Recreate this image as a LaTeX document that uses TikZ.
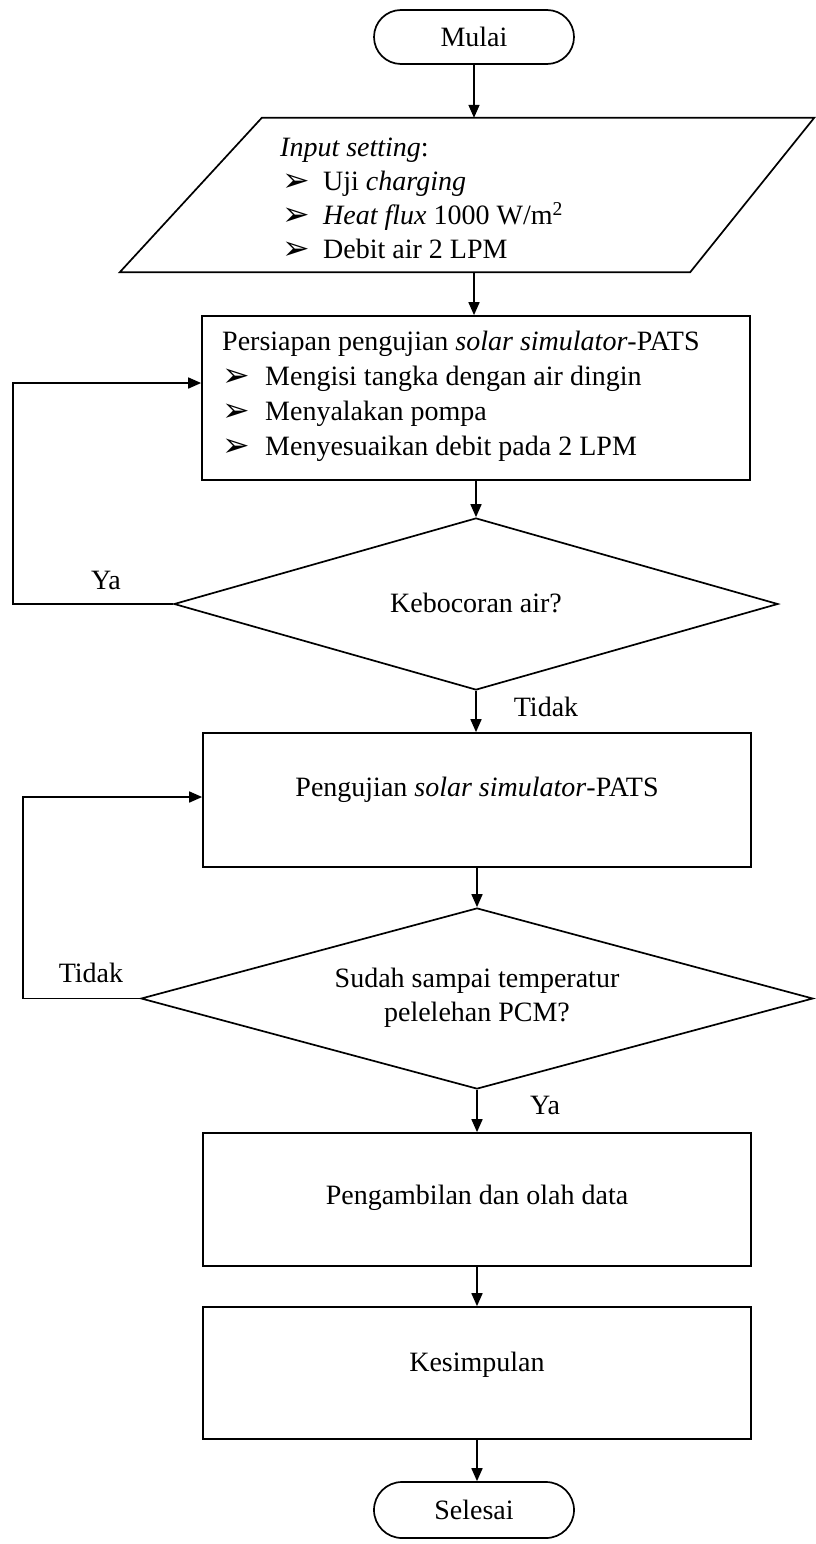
\documentclass[tikz,border=0pt]{standalone}
\usepackage{fontspec}
\setmainfont{Liberation Serif}
\newfontfamily\dvfont{DejaVu Sans}
\usetikzlibrary{shapes.geometric,arrows.meta}
\newcommand\bul{\raisebox{-1pt}{\dvfont\fontsize{33}{33}\selectfont ➢}}
\tikzset{
  ln/.style={line width=1.7pt, draw=black},
  arr/.style={ln, -{Triangle[length=13pt,width=11pt]}},
  term/.style={ln, rectangle, rounded corners=27pt, minimum width=200pt, minimum height=54pt, inner sep=0pt},
  procbox/.style={ln, rectangle, minimum width=548pt, inner sep=0pt},
  dia/.style={ln, diamond, inner sep=0pt, aspect=3},
  txt/.style={inner sep=0pt, font=\fontsize{28}{34}\selectfont},
  lbl/.style={inner sep=0pt, font=\fontsize{28}{34}\selectfont},
}
\begin{document}
\begin{tikzpicture}[x=1pt,y=-1pt, font=\fontsize{28}{34}\selectfont]
\useasboundingbox (0,0) rectangle (815,1544);
% start
\node[term] (start) at (474,37) {Mulai};
% input parallelogram
\node[inner sep=0pt, minimum width=694pt, minimum height=154pt] (inp) at (467,195) {};
\draw[ln] ([xshift=142pt]inp.north west) -- (inp.north east) -- ([xshift=-124pt]inp.south east) -- (inp.south west) -- cycle;
\node[txt, anchor=west, align=left] (inptxt) at (280,199) {\textit{Input setting}:\\
\hspace{2pt}\makebox[41pt][l]{\bul}Uji \textit{charging}\\
\hspace{2pt}\makebox[41pt][l]{\bul}\textit{Heat flux} 1000 W/m\textsuperscript{2}\\
\hspace{2pt}\makebox[41pt][l]{\bul}Debit air 2 LPM};
% preparation
\node[procbox, minimum height=164pt] (prep) at (476,398) {};
\node[txt, anchor=west, align=left, font=\fontsize{28}{35}\selectfont] (preptxt) at (222,396) {Persiapan pengujian \textit{solar simulator}-PATS\\
\hspace{0pt}\makebox[43pt][l]{\bul}Mengisi tangka dengan air dingin\\
\hspace{0pt}\makebox[43pt][l]{\bul}Menyalakan pompa\\
\hspace{0pt}\makebox[43pt][l]{\bul}Menyesuaikan debit pada 2 LPM};
% leak decision
\node[dia, minimum width=604pt, minimum height=172pt] (leak) at (476,604) {};
\node[txt] (leaktxt) at (476,603) {Kebocoran air?};
% test
\node[procbox, minimum height=134pt] (test) at (477,800) {};
\node[txt] (testtxt) at (477,790) {Pengujian \textit{solar simulator}-PATS};
% temperature decision
\node[dia, minimum width=672pt, minimum height=181pt] (temp) at (477,998.5) {};
\node[txt, align=center] (temptxt) at (477,998) {Sudah sampai temperatur\\pelelehan PCM?};
% data
\node[procbox, minimum height=133pt] (data) at (477,1199.5) {};
\node[txt] (datatxt) at (477,1198) {Pengambilan dan olah data};
% conclusion
\node[procbox, minimum height=132pt] (kes) at (477,1373) {};
\node[txt] (kestxt) at (477,1365) {Kesimpulan};
% end
\node[term, minimum height=56pt, rounded corners=28pt] (stop) at (474,1510) {Selesai};
% connectors
\draw[arr] (start.south) -- (start.south |- inp.north);
\draw[arr] (start.south |- inp.south) -- (start.south |- prep.north);
\draw[arr] (prep.south) -- (prep.south |- leak.north);
\draw[arr] (leak.south) -- (leak.south |- test.north);
\draw[arr] (test.south) -- (test.south |- temp.north);
\draw[arr] (temp.south) -- (temp.south |- data.north);
\draw[arr] (data.south) -- (data.south |- kes.north);
\draw[arr] (kes.south) -- (kes.south |- stop.north);
% loops
\coordinate (yaturn) at (13,383);
\draw[arr] (leak.west) -| (yaturn) -- (yaturn -| prep.west);
\coordinate (tdturn) at (23,797);
\draw[arr] (temp.west) -| (tdturn) -- (tdturn -| test.west);
% labels
\node[lbl] (ya1) at (106,580) {Ya};
\node[lbl] (td1) at (546,707) {Tidak};
\node[lbl] (td2) at (91,973) {Tidak};
\node[lbl] (ya2) at (545,1105) {Ya};
\end{tikzpicture}
\end{document}
